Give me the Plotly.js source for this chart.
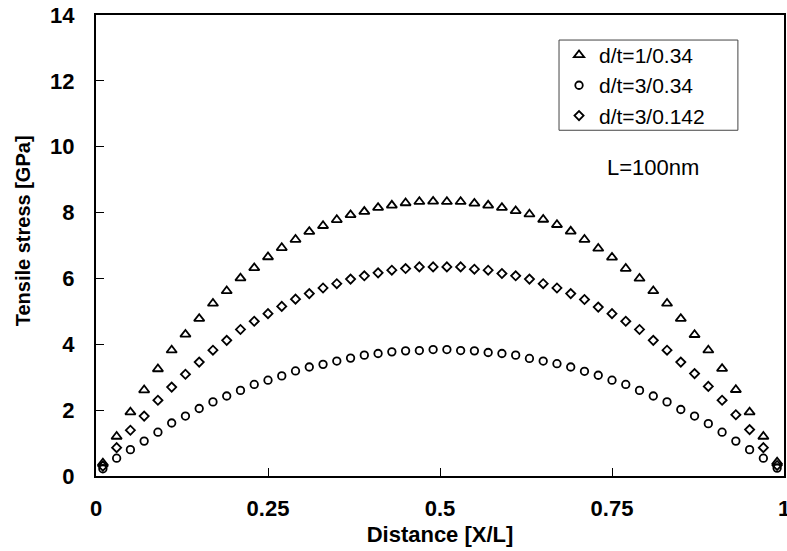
<!DOCTYPE html>
<html>
<head>
<meta charset="utf-8">
<script src="https://cdn.plot.ly/plotly-3.0.1.min.js"></script>
<style>html,body{margin:0;padding:0;background:#fff;}#chart{width:787px;height:551px;}</style>
</head>
<body>
<div id="chart"></div>
<script>
const xPos = [0.01,0.03,0.05,0.07,0.09,0.11,0.13,0.15,0.17,0.19,0.21,0.23,0.25,0.27,0.29,0.31,0.33,0.35,0.37,0.39,0.41,0.43,0.45,0.47,0.49,
              0.51,0.53,0.55,0.57,0.59,0.61,0.63,0.65,0.67,0.69,0.71,0.73,0.75,0.77,0.79,0.81,0.83,0.85,0.87,0.89,0.91,0.93,0.95,0.97,0.99];
const seriesNames = ["d/t=1/0.34", "d/t=3/0.34", "d/t=3/0.142"];
const stressA = [0.39,1.20,1.94,2.61,3.25,3.82,4.30,4.78,5.24,5.62,6.01,6.32,6.65,6.93,7.18,7.42,7.60,7.78,7.93,8.03,8.15,8.22,8.29,8.33,8.34,
                 8.33,8.33,8.28,8.22,8.15,8.05,7.95,7.79,7.63,7.43,7.18,6.91,6.64,6.30,6.00,5.62,5.24,4.78,4.29,3.82,3.26,2.62,1.94,1.20,0.42];
const stressB = [0.22,0.54,0.80,1.06,1.33,1.61,1.82,2.05,2.25,2.43,2.60,2.78,2.91,3.04,3.19,3.31,3.39,3.49,3.58,3.67,3.72,3.77,3.80,3.81,3.84,
                 3.84,3.81,3.80,3.75,3.72,3.67,3.57,3.49,3.41,3.31,3.18,3.06,2.91,2.78,2.60,2.43,2.25,2.02,1.82,1.59,1.33,1.06,0.80,0.54,0.24];
const stressC = [0.30,0.86,1.39,1.82,2.30,2.70,3.09,3.46,3.82,4.12,4.45,4.70,4.93,5.15,5.37,5.54,5.71,5.84,5.98,6.08,6.17,6.25,6.30,6.35,6.35,
                 6.35,6.35,6.28,6.25,6.15,6.08,5.98,5.84,5.71,5.54,5.36,5.13,4.93,4.70,4.45,4.12,3.82,3.46,3.11,2.72,2.30,1.86,1.41,0.86,0.32];
const xTickVals = [0, 0.25, 0.5, 0.75, 1];
const xTickText = ["0", "0.25", "0.5", "0.75", "1"];
const yTickVals = [0, 2, 4, 6, 8, 10, 12, 14];
const xTitle = "Distance [X/L]";
const yTitle = "Tensile stress [GPa]";
const noteText = "L=100nm";

const FONT = "Liberation Sans, Arial, Helvetica, sans-serif";
function mk(y, name, symbol, size) {
  return {
    x: xPos, y: y, name: name, type: "scatter", mode: "markers",
    marker: {symbol: symbol, size: size, color: "#000", line: {color: "#000", width: 1.8}},
    cliponaxis: false
  };
}
const data = [
  mk(stressA, seriesNames[0], "triangle-up-open", 9),
  mk(stressB, seriesNames[1], "circle-open", 7.5),
  mk(stressC, seriesNames[2], "diamond-open", 7)
];
const layout = {
  width: 787, height: 551,
  margin: {l: 96, r: 3, t: 15, b: 75},
  paper_bgcolor: "#fff", plot_bgcolor: "#fff",
  font: {family: FONT, color: "#000"},
  showlegend: true,
  legend: {
    x: 0.673, y: 0.957, xanchor: "left", yanchor: "top",
    bgcolor: "rgba(0,0,0,0)", borderwidth: 0,
    font: {family: FONT, size: 21, color: "#000"},
    tracegroupgap: 0
  },
  shapes: [{
    type: "rect", xref: "paper", yref: "paper",
    x0: 0.673, x1: 0.933, y0: 0.750, y1: 0.9457,
    line: {color: "#444", width: 1}, fillcolor: "#fff", layer: "below"
  }],
  xaxis: {
    range: [0, 1], tickvals: xTickVals, ticktext: xTickText,
    ticks: "inside", ticklen: 8, tickwidth: 1, tickcolor: "#000",
    showline: true, linecolor: "#000", linewidth: 2, mirror: true,
    showgrid: false, zeroline: false,
    ticklabeloverflow: "allow",
    tickfont: {family: FONT, size: 22, color: "#000", weight: "bold"},
    ticklabelstandoff: 12,
    title: {text: "<b>" + xTitle + "</b>", font: {family: FONT, size: 22, color: "#000"}, standoff: 6}
  },
  yaxis: {
    range: [0, 14], tickvals: yTickVals,
    ticks: "inside", ticklen: 8, tickwidth: 1, tickcolor: "#000",
    showline: true, linecolor: "#000", linewidth: 2, mirror: true,
    showgrid: false, zeroline: false,
    ticklabeloverflow: "allow",
    tickfont: {family: FONT, size: 22, color: "#000", weight: "bold"},
    ticklabelstandoff: 15
  },
  annotations: [
    {
      text: noteText, xref: "paper", yref: "paper", x: 0.81, y: 0.67,
      xanchor: "center", yanchor: "middle",
      showarrow: false, font: {family: FONT, size: 22, color: "#000"}
    },
    {
      text: "<b>" + yTitle + "</b>", xref: "paper", yref: "paper", x: -0.106, y: 0.531,
      xanchor: "center", yanchor: "middle", textangle: -90,
      showarrow: false, font: {family: FONT, size: 20, color: "#000"}
    }
  ]
};
Plotly.newPlot("chart", data, layout, {displayModeBar: false, staticPlot: true});
</script>
</body>
</html>
